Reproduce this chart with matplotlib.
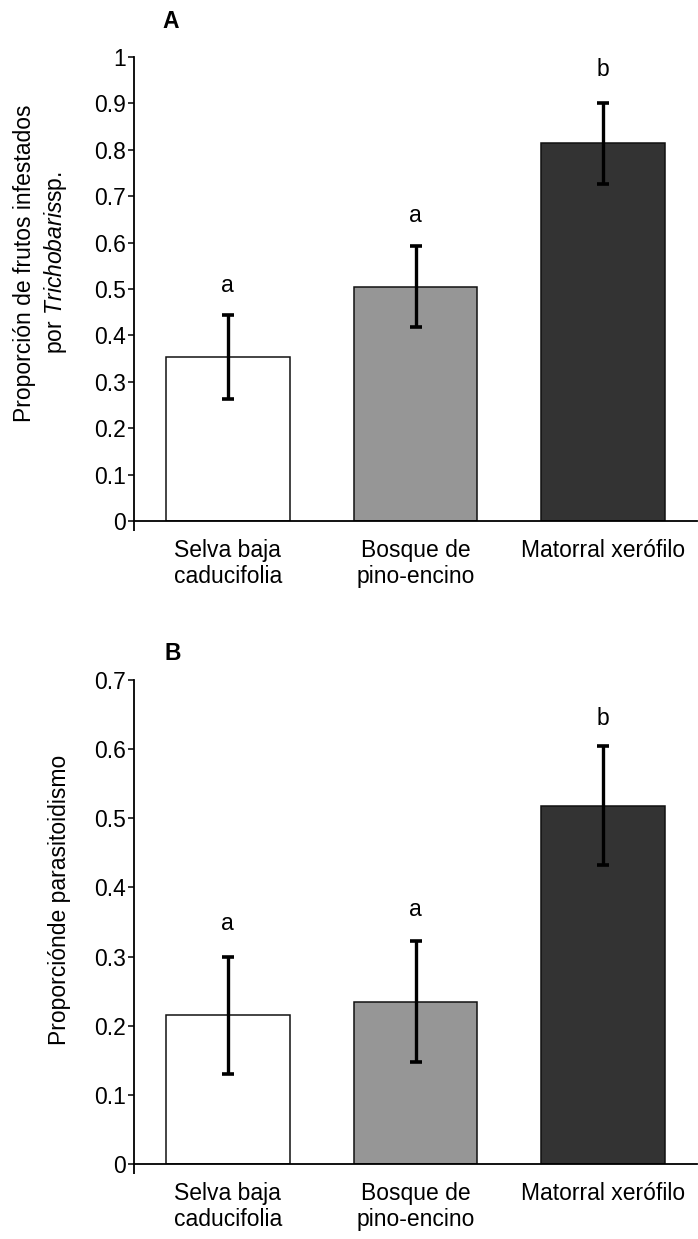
import matplotlib
matplotlib.use("Agg")
import matplotlib.pyplot as plt
import numpy as np

plt.rcParams["font.family"] = ["Liberation Sans", "DejaVu Sans"]
plt.rcParams["mathtext.fontset"] = "custom"
plt.rcParams["mathtext.rm"] = "Liberation Sans"
plt.rcParams["mathtext.it"] = "Liberation Sans:italic"

categories = ["Selva baja\ncaducifolia", "Bosque de\npino-encino", "Matorral xerófilo"]
colors = ["#ffffff", "#969696", "#333333"]

infest_mean = [0.353, 0.505, 0.814]
infest_err = [0.090, 0.087, 0.087]
infest_letters = ["a", "a", "b"]
infest_letter_y = [0.493, 0.644, 0.960]

paras_mean = [0.215, 0.235, 0.518]
paras_err = [0.085, 0.087, 0.086]
paras_letters = ["a", "a", "b"]
paras_letter_y = [0.339, 0.358, 0.635]

FS = 16.5
W, H = 698, 1239


def panel(ax, means, errs, letters, letter_y, ymax, step):
    x = np.arange(len(means))
    ax.bar(x, means, width=0.66, color=colors, edgecolor="#111111", linewidth=1.1, zorder=2)
    ax.errorbar(x, means, yerr=errs, fmt="none", ecolor="black", elinewidth=2.4,
                capsize=4.2, capthick=2.6, zorder=3)
    for xi, lab, ly in zip(x, letters, letter_y):
        ax.text(xi, ly, lab, ha="center", va="baseline", fontsize=FS)
    ax.set_xlim(-0.5, 2.5)
    ax.set_ylim(0, ymax)
    ticks = np.arange(0, ymax + step / 2, step)
    ax.set_yticks(ticks)
    ax.set_yticklabels([f"{v:g}" for v in ticks])
    ax.set_xticks(x)
    ax.set_xticklabels(categories, linespacing=1.15)
    ax.set_xticks([-0.5], minor=True)
    ax.tick_params(axis="x", which="major", length=0, pad=13, labelsize=FS)
    ax.tick_params(axis="x", which="minor", length=7, width=1.3, direction="out")
    ax.tick_params(axis="y", length=4.5, width=1.1, pad=1.5, labelsize=FS, direction="out")
    for side in ["top", "right"]:
        ax.spines[side].set_visible(False)
    for side in ["left", "bottom"]:
        ax.spines[side].set_linewidth(1.3)


fig = plt.figure(figsize=(W / 100, H / 100), dpi=100)
left = 134 / W
width = 563 / W
ax1 = fig.add_axes([left, 1 - 521 / H, width, 464 / H])
ax2 = fig.add_axes([left, 1 - 1164 / H, width, 484 / H])

panel(ax1, infest_mean, infest_err, infest_letters, infest_letter_y, 1.0, 0.1)
panel(ax2, paras_mean, paras_err, paras_letters, paras_letter_y, 0.7, 0.1)

fig.text(162 / W, 1 - 28 / H, "A", fontsize=FS, fontweight="bold", ha="left", va="baseline")
fig.text(165 / W, 1 - 660 / H, "B", fontsize=FS, fontweight="bold", ha="left", va="baseline")

fig.text(41 / W, 1 - 263 / H,
         "Proporción de frutos infestados\npor $\\mathit{Trichobaris}$sp.",
         rotation=90, ha="center", va="center", fontsize=FS, linespacing=1.3,
         multialignment="center")
fig.text(60 / W, 1 - 900 / H, "Proporciónde parasitoidismo",
         rotation=90, ha="center", va="center", fontsize=FS)

fig.savefig("out.png", dpi=100)
